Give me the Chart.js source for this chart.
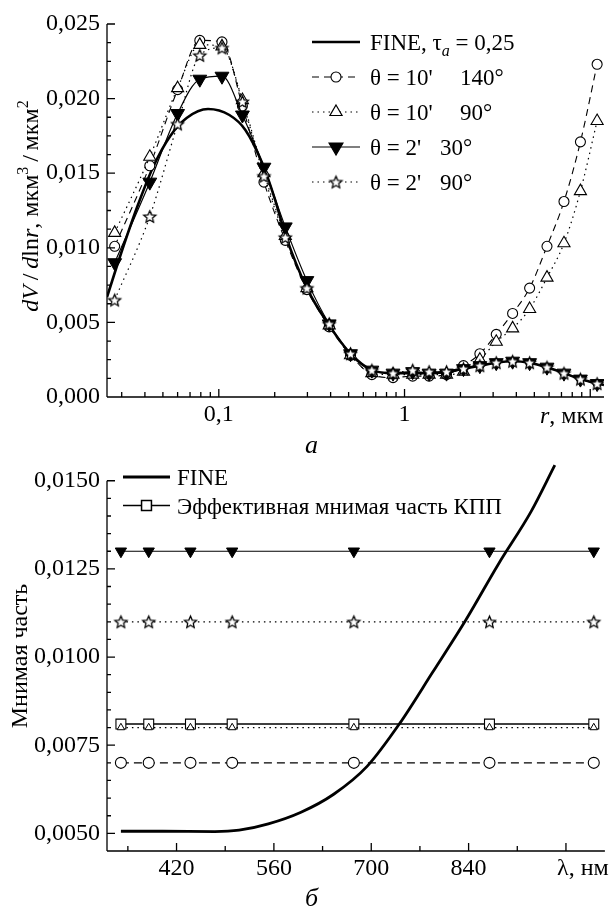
<!DOCTYPE html>
<html>
<head>
<meta charset="utf-8">
<script src="https://cdn.jsdelivr.net/npm/chart.js@4.4.1/dist/chart.umd.min.js"></script>
<style>
  html, body { margin: 0; padding: 0; background: #fff; overflow: hidden; }
  #wrapA { position: absolute; left: 0; top: 0; width: 613px; height: 455px; }
  #wrapB { position: absolute; left: 0; top: 455px; width: 613px; height: 456px; }
</style>
</head>
<body>
<div id="wrapA"><canvas id="chartA"></canvas></div>
<div id="wrapB"><canvas id="chartB"></canvas></div>
<script>
// ---- (a) size distribution dV/dlnr ----
var rGrid = [0.0275, 0.0425, 0.060, 0.079, 0.104, 0.134, 0.175, 0.228, 0.298, 0.393, 0.512, 0.667, 0.867,
             1.106, 1.356, 1.683, 2.077, 2.545, 3.118, 3.819, 4.716, 5.849, 7.220, 8.854, 10.89];
var dvT10a140 = [0.0101, 0.0155, 0.0206, 0.0239, 0.0238, 0.0195, 0.0144, 0.0105, 0.0072, 0.0047, 0.0028, 0.0015, 0.0013,
                 0.0014, 0.0014, 0.0015, 0.0021, 0.0029, 0.0042, 0.0056, 0.0073, 0.0101, 0.0131, 0.0171, 0.0223];
var dvT10a90 = [0.0110, 0.0161, 0.0207, 0.0236, 0.0235, 0.0199, 0.0150, 0.0108, 0.0073, 0.0048, 0.0028, 0.0016, 0.0015,
                0.0015, 0.0015, 0.0015, 0.0017, 0.0025, 0.0037, 0.0046, 0.0059, 0.0080, 0.0103, 0.0138, 0.0185];
var dvT2a30 = [0.0090, 0.0144, 0.0190, 0.0213, 0.0215, 0.0189, 0.0154, 0.0114, 0.0078, 0.0049, 0.0029, 0.0018, 0.0016,
               0.0017, 0.0016, 0.0016, 0.0019, 0.0021, 0.0023, 0.0024, 0.0023, 0.0020, 0.0016, 0.0012, 0.0009];
var dvT2a90 = [0.0065, 0.0121, 0.0183, 0.0229, 0.0234, 0.0198, 0.0148, 0.0107, 0.0073, 0.0049, 0.0029, 0.0018, 0.0016,
               0.0018, 0.0017, 0.0017, 0.0019, 0.0021, 0.0023, 0.0024, 0.0023, 0.0020, 0.0016, 0.0012, 0.0009];
var rFine = [0.025, 0.0299, 0.0365, 0.0446, 0.0548, 0.0671, 0.0875, 0.114, 0.139, 0.171, 0.200, 0.228, 0.298, 0.393,
             0.512, 0.667, 0.867, 1.106, 1.356, 1.683, 2.077, 2.545, 3.118, 3.819, 4.716, 5.849, 7.220, 8.854, 10.89, 11.86];
var dvFine = [0.0067, 0.0097, 0.0128, 0.0155, 0.0175, 0.0187, 0.0193, 0.0189, 0.0179, 0.0157, 0.0133, 0.0109, 0.0073, 0.0048,
              0.0029, 0.0018, 0.0016, 0.0016, 0.0016, 0.0017, 0.0019, 0.0021, 0.0023, 0.0024, 0.0023, 0.0020, 0.0016, 0.0012, 0.0009, 0.0008];

var rMajorTicks = [0.1, 1, 10];
var rMajorLabels = ['0,1', '1', ''];
var rMinorTicks = [0.03, 0.04, 0.05, 0.06, 0.07, 0.08, 0.09, 0.2, 0.3, 0.4, 0.5, 0.6, 0.7, 0.8, 0.9, 2, 3, 4, 5, 6, 7, 8, 9];
var dvMajorTicks = [0, 0.005, 0.010, 0.015, 0.020, 0.025];
var dvMajorLabels = ['0,000', '0,005', '0,010', '0,015', '0,020', '0,025'];

// ---- (b) imaginary part vs wavelength ----
var lam = [340, 380, 440, 500, 675, 870, 1020];
var imT2a30 = [0.0130, 0.0130, 0.0130, 0.0130, 0.0130, 0.0130, 0.0130];
var imT2a90 = [0.0110, 0.0110, 0.0110, 0.0110, 0.0110, 0.0110, 0.0110];
var imEff = [0.0081, 0.0081, 0.0081, 0.0081, 0.0081, 0.0081, 0.0081];
var imT10a90 = [0.0080, 0.0080, 0.0080, 0.0080, 0.0080, 0.0080, 0.0080];
var imT10a140 = [0.0070, 0.0070, 0.0070, 0.0070, 0.0070, 0.0070, 0.0070];
var lamFine = [340, 400, 475, 510, 552, 599, 646, 694, 741, 788, 836, 883, 930, 964];
var imFine = [0.00506, 0.00506, 0.00505, 0.00509, 0.00527, 0.00560, 0.00611, 0.00690, 0.00812, 0.00956, 0.01105, 0.01264, 0.01413, 0.01544];

var lamMajorTicks = [420, 560, 700, 840, 980];
var lamMajorLabels = ['420', '560', '700', '840', ''];
var lamMinorTicks = [350, 490, 630, 770, 910];
var imMajorTicks = [0.0050, 0.0075, 0.0100, 0.0125, 0.0150];
var imMajorLabels = ['0,0050', '0,0075', '0,0100', '0,0125', '0,0150'];

var SERIF = '"Liberation Serif", "DejaVu Serif", serif';
function font(sz, it) { return (it ? 'italic ' : '') + sz + 'px ' + SERIF; }

function pts(xs, ys) { return xs.map(function (x, i) { return { x: x, y: ys[i] }; }); }

function starImage(R) {
    var s = Math.ceil(R * 2 + 4), c = document.createElement('canvas');
    c.width = s; c.height = s;
    var g = c.getContext('2d'), cx = s / 2, cy = s / 2 + R * 0.1;
    g.beginPath();
    for (var i = 0; i < 10; i++) {
        var rr = i % 2 ? R * 0.46 : R, a = -Math.PI / 2 + i * Math.PI / 5;
        g.lineTo(cx + rr * Math.cos(a), cy + rr * Math.sin(a));
    }
    g.closePath();
    g.fillStyle = '#fff'; g.fill();
    g.lineWidth = 1.3; g.lineJoin = 'miter'; g.strokeStyle = '#000'; g.stroke();
    return c;
}
var star = starImage(6.3);

function richWidth(ctx, parts, size) {
    var w = 0;
    parts.forEach(function (p) {
        ctx.font = font(p.sub || p.sup ? Math.round(size * 0.68) : size, p.it);
        w += ctx.measureText(p.t).width;
    });
    return w;
}
function drawRich(ctx, x, y, parts, size) {
    parts.forEach(function (p) {
        if (p.x !== undefined) x = p.x;
        var sz = p.sub || p.sup ? Math.round(size * 0.68) : size;
        ctx.font = font(sz, p.it);
        var dy = p.sub ? size * 0.25 : (p.sup ? -size * 0.42 : 0);
        ctx.fillText(p.t, x, y + dy);
        x += ctx.measureText(p.t).width;
    });
    return x;
}

// line + marker legend rows drawn from the dataset styles
function drawLegend(chart, rows, x0, x1, tx, size) {
    var ctx = chart.ctx;
    rows.forEach(function (row) {
        var ds = chart.data.datasets[row.ds];
        ctx.save();
        ctx.strokeStyle = '#000';
        ctx.lineWidth = ds.borderWidth;
        ctx.setLineDash(ds.borderDash || []);
        ctx.beginPath(); ctx.moveTo(x0, row.y); ctx.lineTo(x1, row.y); ctx.stroke();
        ctx.setLineDash([]);
        if (ds.pointRadius > 0) {
            ctx.fillStyle = ds.pointBackgroundColor;
            ctx.strokeStyle = '#000';
            Chart.helpers.drawPoint(ctx, {
                pointStyle: ds.pointStyle, radius: ds.pointRadius,
                rotation: ds.pointRotation || 0, borderWidth: ds.pointBorderWidth
            }, (x0 + x1) / 2, row.y);
        }
        ctx.fillStyle = '#000';
        ctx.textBaseline = 'alphabetic';
        ctx.textAlign = 'left';
        drawRich(ctx, tx, row.y + 8, row.parts, size);
        ctx.restore();
    });
}

function axesPlugin(o) {
    return {
        id: 'axesIn',
        afterDraw: function (chart) {
            var ctx = chart.ctx, a = chart.chartArea, sx = chart.scales.x, sy = chart.scales.y;
            ctx.save();
            ctx.strokeStyle = '#000';
            ctx.lineWidth = 1.3;
            var yTop = sy.getPixelForValue(o.yLineTop);
            ctx.beginPath();
            ctx.moveTo(a.left, yTop); ctx.lineTo(a.left, a.bottom);
            ctx.moveTo(a.left, a.bottom); ctx.lineTo(a.right, a.bottom);
            o.yMajor.forEach(function (v) { var p = sy.getPixelForValue(v); ctx.moveTo(a.left, p); ctx.lineTo(a.left + 8, p); });
            o.yMinor.forEach(function (v) { var p = sy.getPixelForValue(v); ctx.moveTo(a.left, p); ctx.lineTo(a.left + 4, p); });
            o.xMajor.forEach(function (v) { var p = sx.getPixelForValue(v); ctx.moveTo(p, a.bottom); ctx.lineTo(p, a.bottom - 8); });
            o.xMinor.forEach(function (v) { var p = sx.getPixelForValue(v); ctx.moveTo(p, a.bottom); ctx.lineTo(p, a.bottom - 5); });
            ctx.stroke();

            ctx.fillStyle = '#000';
            ctx.textAlign = 'left';
            ctx.textBaseline = 'alphabetic';
            // y title, rotated
            var w = richWidth(ctx, o.yTitle.parts, o.yTitle.size);
            ctx.save();
            ctx.translate(o.yTitle.x, o.yTitle.y);
            ctx.rotate(-Math.PI / 2);
            drawRich(ctx, -w / 2, 0, o.yTitle.parts, o.yTitle.size);
            ctx.restore();
            // x title in place of the last tick label
            drawRich(ctx, o.xTitle.x, o.xTitle.y, o.xTitle.parts, o.xTitle.size);
            // panel letter
            ctx.font = font(26, true);
            ctx.fillText(o.letter.t, o.letter.x, o.letter.y);

            drawLegend(chart, o.legend.rows, o.legend.x0, o.legend.x1, o.legend.tx, o.legend.size);
            ctx.restore();
        }
    };
}

function xScale(type, min, max, majors, labels, h) {
    return {
        type: type, min: min, max: max,
        grid: { display: false, drawTicks: false },
        border: { display: false },
        ticks: {
            autoSkip: false, maxRotation: 0, minRotation: 0, padding: 3, color: '#000',
            font: { family: SERIF, size: 24 },
            callback: function (v, i) { return labels[i]; }
        },
        afterBuildTicks: function (s) { s.ticks = majors.map(function (v) { return { value: v }; }); },
        afterFit: function (s) { s.height = h; s.paddingLeft = 0; s.paddingRight = 0; s.paddingTop = 0; s.paddingBottom = 0; }
    };
}
function yScale(min, max, majors, labels) {
    return {
        min: min, max: max,
        grid: { display: false, drawTicks: false },
        border: { display: false },
        ticks: {
            autoSkip: false, padding: 7, color: '#000',
            font: { family: SERIF, size: 24 },
            callback: function (v, i) { return labels[i]; }
        },
        afterBuildTicks: function (s) { s.ticks = majors.map(function (v) { return { value: v }; }); },
        afterFit: function (s) { s.width = 107; s.paddingLeft = 0; s.paddingRight = 0; s.paddingTop = 0; s.paddingBottom = 0; }
    };
}

function steps(a, b, d) { var out = []; for (var v = a; v < b - d / 2; v += d) out.push(+v.toFixed(6)); return out; }

// ---------------- chart (a) ----------------
new Chart(document.getElementById('chartA'), {
    type: 'line',
    data: {
        datasets: [
            { label: 'FINE', data: pts(rFine, dvFine), borderColor: '#000', borderWidth: 2.6,
              pointRadius: 0, cubicInterpolationMode: 'monotone', order: 5 },
            { label: "θ = 10' 140°", data: pts(rGrid, dvT10a140), borderColor: '#000', borderWidth: 1.1,
              borderDash: [7, 5], pointStyle: 'circle', pointRadius: 5, pointBackgroundColor: '#fff',
              pointBorderColor: '#000', pointBorderWidth: 1.1, cubicInterpolationMode: 'monotone', order: 4 },
            { label: "θ = 10' 90°", data: pts(rGrid, dvT10a90), borderColor: '#000', borderWidth: 1.2,
              borderDash: [1.5, 4], pointStyle: 'triangle', pointRadius: 7, pointBackgroundColor: '#fff',
              pointBorderColor: '#000', pointBorderWidth: 1.1, cubicInterpolationMode: 'monotone', order: 3 },
            { label: "θ = 2' 30°", data: pts(rGrid, dvT2a30), borderColor: '#000', borderWidth: 1.2,
              pointStyle: 'triangle', pointRotation: 180, pointRadius: 8, pointBackgroundColor: '#000',
              pointBorderColor: '#000', pointBorderWidth: 1, cubicInterpolationMode: 'monotone', order: 2 },
            { label: "θ = 2' 90°", data: pts(rGrid, dvT2a90), borderColor: '#000', borderWidth: 1.2,
              borderDash: [1.5, 4], pointStyle: star, pointRadius: 6, pointBackgroundColor: '#fff',
              pointBorderColor: '#000', pointBorderWidth: 1, cubicInterpolationMode: 'monotone', order: 1 }
        ]
    },
    options: {
        responsive: true, maintainAspectRatio: false, animation: false, devicePixelRatio: 1,
        layout: { padding: { top: 24, left: 0, right: 0, bottom: 0 } },
        plugins: { legend: { display: false }, tooltip: { enabled: false } },
        scales: {
            x: xScale('logarithmic', 0.025, 11.86, rMajorTicks, rMajorLabels, 58),
            y: yScale(0, 0.025, dvMajorTicks, dvMajorLabels)
        }
    },
    plugins: [axesPlugin({
        yLineTop: 0.025,
        yMajor: dvMajorTicks, yMinor: steps(0.00125, 0.025, 0.00125).filter(function (v) { return Math.abs(v / 0.005 - Math.round(v / 0.005)) > 1e-6; }),
        xMajor: rMajorTicks, xMinor: rMinorTicks,
        yTitle: { x: 38, y: 206, size: 24, parts: [
            { t: 'd', it: true }, { t: 'V', it: true }, { t: '\u2009/\u2009' }, { t: 'd', it: true }, { t: 'ln' },
            { t: 'r', it: true }, { t: ', мкм' }, { t: '3', sup: true }, { t: '\u2009/\u2009мкм' }, { t: '2', sup: true }] },
        xTitle: { x: 540, y: 423, size: 24, parts: [{ t: 'r', it: true }, { t: ', мкм' }] },
        letter: { t: 'a', x: 305, y: 453 },
        legend: { x0: 312, x1: 360, tx: 370, size: 23, rows: [
            { ds: 0, y: 42, parts: [{ t: 'FINE, τ' }, { t: 'a', it: true, sub: true }, { t: ' = 0,25' }] },
            { ds: 1, y: 77, parts: [{ t: "θ = 10'" }, { t: '140°', x: 460 }] },
            { ds: 2, y: 112, parts: [{ t: "θ = 10'" }, { t: '90°', x: 460 }] },
            { ds: 3, y: 147, parts: [{ t: "θ = 2'" }, { t: '30°', x: 440 }] },
            { ds: 4, y: 182, parts: [{ t: "θ = 2'" }, { t: '90°', x: 440 }] }
        ] }
    })]
});

// ---------------- chart (b) ----------------
new Chart(document.getElementById('chartB'), {
    type: 'line',
    data: {
        datasets: [
            { label: 'FINE', data: pts(lamFine, imFine), borderColor: '#000', borderWidth: 2.8,
              pointRadius: 0, cubicInterpolationMode: 'monotone', order: 1 },
            { label: 'Эффективная мнимая часть КПП', data: pts(lam, imEff), borderColor: '#000', borderWidth: 1.5,
              pointStyle: 'rect', pointRadius: 7, pointBackgroundColor: '#fff', pointBorderColor: '#000',
              pointBorderWidth: 1.1, order: 6 },
            { label: "θ = 10' 90°", data: pts(lam, imT10a90), borderColor: '#000', borderWidth: 1.2,
              borderDash: [1.5, 4], pointStyle: 'triangle', pointRadius: 4.3, pointBackgroundColor: '#fff',
              pointBorderColor: '#000', pointBorderWidth: 1, order: 5 },
            { label: "θ = 2' 30°", data: pts(lam, imT2a30), borderColor: '#000', borderWidth: 1.2,
              pointStyle: 'triangle', pointRotation: 180, pointRadius: 6.5, pointBackgroundColor: '#000',
              pointBorderColor: '#000', pointBorderWidth: 1, order: 4 },
            { label: "θ = 2' 90°", data: pts(lam, imT2a90), borderColor: '#000', borderWidth: 1.2,
              borderDash: [1.5, 4], pointStyle: star, pointRadius: 6, pointBackgroundColor: '#fff',
              pointBorderColor: '#000', pointBorderWidth: 1, order: 3 },
            { label: "θ = 10' 140°", data: pts(lam, imT10a140), borderColor: '#000', borderWidth: 1.2,
              borderDash: [8, 5], pointStyle: 'circle', pointRadius: 5.5, pointBackgroundColor: '#fff',
              pointBorderColor: '#000', pointBorderWidth: 1.1, order: 2 }
        ]
    },
    options: {
        responsive: true, maintainAspectRatio: false, animation: false, devicePixelRatio: 1,
        layout: { padding: { top: 3, left: 0, right: 0, bottom: 0 } },
        plugins: { legend: { display: false }, tooltip: { enabled: false } },
        scales: {
            x: xScale('linear', 320, 1036, lamMajorTicks, lamMajorLabels, 60),
            y: yScale(0.0045, 0.0155, imMajorTicks, imMajorLabels)
        }
    },
    plugins: [axesPlugin({
        yLineTop: 0.0150,
        yMajor: imMajorTicks, yMinor: steps(0.0050, 0.0150, 0.0005).filter(function (v) { return Math.abs(v / 0.0025 - Math.round(v / 0.0025)) > 1e-6; }),
        xMajor: lamMajorTicks, xMinor: lamMinorTicks,
        yTitle: { x: 27, y: 201, size: 24, parts: [{ t: 'Мнимая часть' }] },
        xTitle: { x: 557, y: 420, size: 24, parts: [{ t: 'λ, нм' }] },
        letter: { t: 'б', x: 305, y: 451 },
        legend: { x0: 123, x1: 170, tx: 177, size: 23, rows: [
            { ds: 0, y: 22, parts: [{ t: 'FINE' }] },
            { ds: 1, y: 50.5, parts: [{ t: 'Эффективная мнимая часть КПП' }] }
        ] }
    })]
});
</script>
</body>
</html>
